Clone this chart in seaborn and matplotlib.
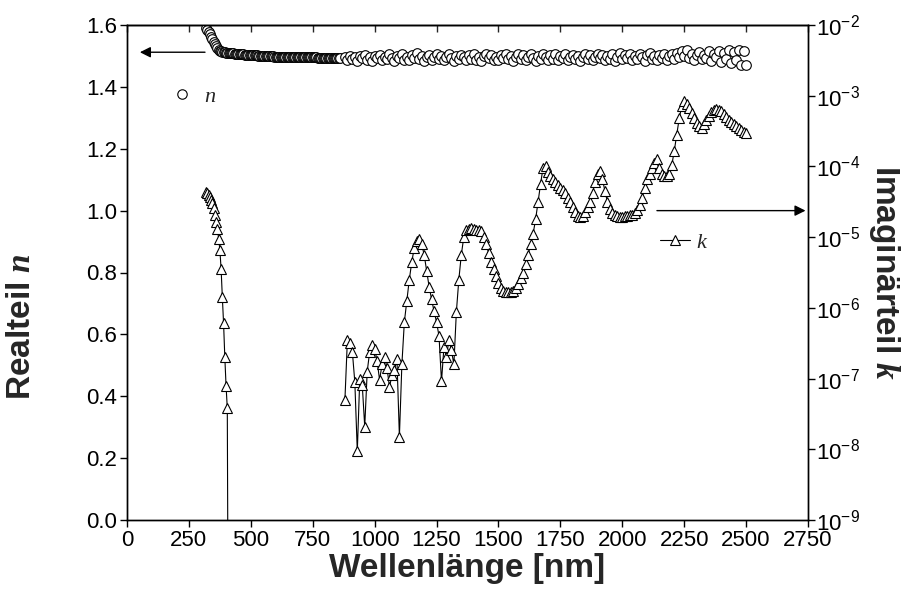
import numpy as np
import pandas as pd
import matplotlib
matplotlib.use("Agg")
import matplotlib.pyplot as plt
from matplotlib.lines import Line2D
from matplotlib.ticker import NullLocator, FixedLocator
from matplotlib.font_manager import FontProperties
import seaborn as sns

# ── Data ───────────────────────────────────────────────────────────────────
# UV/VIS range, 5 nm steps
wl_vis = np.arange(320, 865, 5)
n_vis = [
    1.590, 1.585, 1.578, 1.570, 1.562, 1.554, 1.546, 1.538, 1.531, 1.525,
    1.520, 1.517, 1.515, 1.514, 1.513, 1.512, 1.511,
    1.510, 1.510, 1.509, 1.509, 1.508, 1.508, 1.507, 1.507, 1.506, 1.506,
    1.506, 1.505, 1.505, 1.505, 1.504, 1.504, 1.504, 1.503, 1.503, 1.503,
    1.503, 1.502, 1.502, 1.502, 1.502, 1.501, 1.501, 1.501, 1.501, 1.500,
    1.500, 1.500, 1.500, 1.499, 1.499, 1.499, 1.499, 1.499, 1.498, 1.498,
    1.498, 1.498, 1.498, 1.498, 1.498, 1.497, 1.497, 1.497, 1.497, 1.497,
    1.497, 1.497, 1.497, 1.497, 1.496, 1.496, 1.496, 1.496, 1.496, 1.496,
    1.496, 1.496, 1.496, 1.495, 1.495, 1.495, 1.495, 1.495, 1.495, 1.495,
    1.495, 1.495, 1.495, 1.494, 1.494, 1.494, 1.494, 1.494, 1.494, 1.494,
    1.494, 1.494, 1.494, 1.493, 1.493, 1.493, 1.493, 1.493, 1.493, 1.493,
    1.493, 1.493,
]

# k in the UV (log10), last point falls below the axis
wl_k_uv = np.arange(320, 415, 5)
logk_uv = [
    -4.36, -4.38, -4.40, -4.43, -4.47, -4.52, -4.59, -4.69, -4.78, -4.88,
    -5.02, -5.18, -5.45, -5.85, -6.22, -6.70, -7.10, -7.42, -12.0,
]

# NIR range, 10 nm steps
wl_nir = np.arange(880, 2510, 10)
n_nir = [
    1.497, 1.487, 1.501, 1.490, 1.495, 1.485, 1.499, 1.492, 1.504, 1.488,   # 880-970
    1.496, 1.484, 1.500, 1.494, 1.503, 1.486, 1.498, 1.490, 1.505, 1.492,   # 980-1070
    1.485, 1.500, 1.494, 1.506, 1.488, 1.497, 1.486, 1.503, 1.493, 1.508,   # 1080-1170
    1.489, 1.499, 1.484, 1.495, 1.503, 1.487, 1.498, 1.506, 1.491, 1.501,   # 1180-1270
    1.486, 1.497, 1.505, 1.493, 1.484, 1.500, 1.489, 1.504, 1.495, 1.487,   # 1280-1370
    1.502, 1.491, 1.506, 1.488, 1.497, 1.484, 1.500, 1.507, 1.492, 1.502,   # 1380-1470
    1.488, 1.498, 1.486, 1.504, 1.493, 1.506, 1.489, 1.500, 1.485, 1.495,   # 1480-1570
    1.505, 1.491, 1.502, 1.487, 1.498, 1.507, 1.493, 1.484, 1.500, 1.489,   # 1580-1670
    1.505, 1.495, 1.486, 1.502, 1.491, 1.506, 1.488, 1.500, 1.493, 1.507,   # 1680-1770
    1.486, 1.497, 1.503, 1.489, 1.500, 1.484, 1.495, 1.506, 1.491, 1.502,   # 1780-1870
    1.487, 1.497, 1.507, 1.493, 1.503, 1.488, 1.500, 1.491, 1.505, 1.484,   # 1880-1970
    1.497, 1.509, 1.489, 1.502, 1.493, 1.506, 1.486, 1.500, 1.491, 1.505,   # 1980-2070
    1.495, 1.484, 1.502, 1.509, 1.489, 1.500, 1.486, 1.504, 1.493, 1.507,   # 2080-2170
    1.488, 1.500, 1.505, 1.491, 1.511, 1.496, 1.515, 1.500, 1.518, 1.492,   # 2180-2270
    1.506, 1.486, 1.503, 1.512, 1.489, 1.504, 1.494, 1.515, 1.484, 1.507,   # 2280-2370
    1.497, 1.516, 1.481, 1.509, 1.490, 1.518, 1.476, 1.512, 1.486, 1.520,   # 2380-2470
    1.472, 1.515, 1.470,                                                    # 2480-2500
]
logk_nir = [
    -7.30, -6.45, -6.50, -6.62, -7.05, -8.03, -7.00, -7.09, -7.68, -6.90,   # 880-970
    -6.62, -6.53, -6.58, -6.75, -7.02, -6.80, -6.69, -6.85, -7.12, -6.95,   # 980-1070
    -6.88, -6.72, -7.82, -6.80, -6.20, -5.90, -5.60, -5.35, -5.15, -5.05,   # 1080-1170
    -5.02, -5.10, -5.25, -5.48, -5.70, -5.88, -6.05, -6.20, -6.40, -7.04,   # 1180-1270
    -6.55, -6.70, -6.45, -6.60, -6.80, -6.06, -5.60, -5.25, -5.00, -4.90,   # 1280-1370
    -4.88, -4.87, -4.88, -4.90, -4.90, -4.92, -5.00, -5.10, -5.22, -5.35,   # 1380-1470
    -5.45, -5.55, -5.65, -5.72, -5.76, -5.77, -5.78, -5.77, -5.76, -5.72,   # 1480-1570
    -5.66, -5.58, -5.50, -5.38, -5.25, -5.10, -4.95, -4.75, -4.50, -4.25,   # 1580-1670
    -4.02, -4.00, -4.08, -4.14, -4.18, -4.22, -4.26, -4.30, -4.34, -4.38,   # 1680-1770
    -4.44, -4.50, -4.58, -4.64, -4.70, -4.72, -4.70, -4.65, -4.58, -4.50,   # 1780-1870
    -4.38, -4.22, -4.10, -4.07, -4.18, -4.35, -4.50, -4.60, -4.66, -4.69,   # 1880-1970
    -4.70, -4.71, -4.71, -4.70, -4.70, -4.69, -4.68, -4.66, -4.62, -4.55,   # 1980-2070
    -4.45, -4.30, -4.18, -4.10, -4.02, -3.95, -3.90, -4.02, -4.10, -4.13,   # 2080-2170
    -4.14, -4.10, -3.98, -3.78, -3.55, -3.32, -3.15, -3.08, -3.12, -3.18,   # 2180-2270
    -3.25, -3.32, -3.38, -3.43, -3.45, -3.40, -3.34, -3.28, -3.23, -3.20,   # 2280-2370
    -3.19, -3.20, -3.22, -3.26, -3.30, -3.34, -3.37, -3.40, -3.43, -3.46,   # 2380-2470
    -3.49, -3.51, -3.53,                                                    # 2480-2500
]

X_TICKS = np.arange(0, 2751, 250)
Y_TICKS = np.arange(0, 1.61, 0.2)
K_TICKS = [1e-9, 1e-8, 1e-7, 1e-6, 1e-5, 1e-4, 1e-3, 1e-2]

df_n = pd.DataFrame({"wl": np.concatenate([wl_vis, wl_nir]),
                     "n": np.concatenate([n_vis, n_nir])})
df_k_uv = pd.DataFrame({"wl": wl_k_uv, "k": 10.0 ** np.array(logk_uv)})
df_k_nir = pd.DataFrame({"wl": wl_nir, "k": 10.0 ** np.array(logk_nir)})

# ── Style ──────────────────────────────────────────────────────────────────
sns.set_theme(style="ticks")
plt.rcParams["font.family"] = ["Liberation Sans", "DejaVu Sans"]
plt.rcParams["mathtext.fontset"] = "custom"
plt.rcParams["mathtext.it"] = "Liberation Serif:italic:bold"
plt.rcParams["mathtext.rm"] = "Liberation Sans"
plt.rcParams["axes.linewidth"] = 1.0

TICK_FS = 16
LABEL_FS = 24

fig = plt.figure(figsize=(9.18, 5.90), dpi=100)
ax = fig.add_axes([127 / 918, 70 / 590, 681 / 918, 495 / 590])
ax2 = ax.twinx()

# n: open circles, no line
sns.scatterplot(data=df_n, x="wl", y="n", ax=ax, marker="o", s=48,
                facecolor="white", edgecolor="black", linewidth=0.8,
                legend=False, zorder=3)

# k: open triangles joined by a line
for d in (df_k_uv, df_k_nir):
    sns.lineplot(data=d, x="wl", y="k", ax=ax2, sort=False, estimator=None,
                 color="black", linewidth=0.8, marker="^", markersize=7,
                 markerfacecolor="white", markeredgecolor="black",
                 markeredgewidth=0.8, legend=False)

ax.set_xlim(0, 2750)
ax.set_ylim(0, 1.6)
ax2.set_yscale("log")
ax2.set_ylim(1e-9, 1e-2)

ax.set_xticks(X_TICKS)
ax.set_xticklabels([f"{v:d}" for v in X_TICKS])
ax.set_yticks(Y_TICKS)
ax.set_yticklabels([f"{v:.1f}" for v in Y_TICKS])
ax2.yaxis.set_major_locator(FixedLocator(K_TICKS))
ax2.yaxis.set_minor_locator(NullLocator())

for a in (ax, ax2):
    for s in a.spines.values():
        s.set_visible(True)
        s.set_color("black")
        s.set_linewidth(1.0)
ax.tick_params(axis="both", direction="out", length=5, width=1,
               labelsize=TICK_FS, colors="black", pad=2)
ax2.tick_params(axis="y", direction="out", length=5, width=1,
                labelsize=TICK_FS, colors="black", pad=1)

top = ax.secondary_xaxis("top")
top.set_xticks(X_TICKS)
top.tick_params(direction="in", length=5, width=1, labeltop=False)

ax.set_xlabel("Wellenlänge [nm]", fontsize=LABEL_FS, fontweight="bold",
              labelpad=2)
ax.set_ylabel(r"Realteil $n$", fontsize=LABEL_FS, fontweight="bold")
ax.yaxis.set_label_coords(-0.132, 0.39)
ax2.set_ylabel(r"Imaginärteil $k$", fontsize=LABEL_FS, fontweight="bold",
               rotation=270, labelpad=30)

# legends
leg_font = FontProperties(family="Liberation Serif", style="italic", size=16)
h_n = Line2D([], [], ls="none", marker="o", ms=6.8, mfc="white",
             mec="black", mew=0.8)
h_k = Line2D([], [], ls="-", color="black", lw=0.8, marker="^", ms=7,
             mfc="white", mec="black", mew=0.8)
leg1 = ax2.legend([h_n], ["n"], loc="center left", bbox_to_anchor=(0.065, 0.855),
                  frameon=False, prop=leg_font, handlelength=1.0,
                  handletextpad=0.5, borderpad=0, borderaxespad=0)
ax2.add_artist(leg1)
ax2.legend([h_k], ["k"], loc="center left", bbox_to_anchor=(0.782, 0.56),
           frameon=False, prop=leg_font, handlelength=1.35,
           handletextpad=0.3, borderpad=0, borderaxespad=0)

# direction arrows
arrow = dict(arrowstyle="-|>", color="black", lw=1.0, mutation_scale=16,
             shrinkA=0, shrinkB=0)
ax.annotate("", xy=(52, 1.512), xytext=(315, 1.512), arrowprops=arrow)
ax.annotate("", xy=(2740, 1.0), xytext=(2140, 1.0), arrowprops=arrow)

fig.savefig("out.png", dpi=100)
